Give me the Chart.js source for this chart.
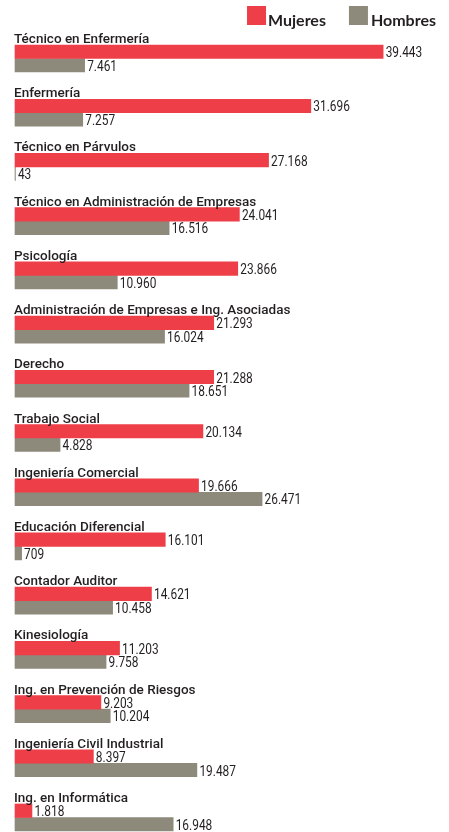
<!DOCTYPE html>
<html>
<head>
<meta charset="utf-8">
<script src="https://cdn.jsdelivr.net/npm/chart.js@4.4.1/dist/chart.umd.min.js"></script>
<style>
  html, body { margin: 0; padding: 0; background: #fff; }
  #wrap { width: 449px; height: 832px; position: relative; }
</style>
</head>
<body>
<div id="wrap"><canvas id="grafico"></canvas></div>
<script>
var carreras = [
  'Técnico en Enfermería',
  'Enfermería',
  'Técnico en Párvulos',
  'Técnico en Administración de Empresas',
  'Psicología',
  'Administración de Empresas e Ing. Asociadas',
  'Derecho',
  'Trabajo Social',
  'Ingeniería Comercial',
  'Educación Diferencial',
  'Contador Auditor',
  'Kinesiología',
  'Ing. en Prevención de Riesgos',
  'Ingeniería Civil Industrial',
  'Ing. en Informática'
]
var mujeres = [39443, 31696, 27168, 24041, 23866, 21293, 21288, 20134, 19666, 16101, 14621, 11203, 9203, 8397, 1818]
var hombres = [7461, 7257, 43, 16516, 10960, 16024, 18651, 4828, 26471, 709, 10458, 9758, 10204, 19487, 16948]

const ROJO = '#ee3f49'
const GRIS = '#8d8a7c'

// miles con punto, tambien para 4 digitos (1.818)
function fmt(n) {
  return String(n).replace(/\B(?=(\d{3})+(?!\d))/g, '.')
}

const rotulos = {
  id: 'rotulos',
  afterDatasetsDraw(chart) {
    const ctx = chart.ctx
    const rojas = chart.getDatasetMeta(0).data
    const grises = chart.getDatasetMeta(1).data
    ctx.save()
    ctx.fillStyle = '#231f20'
    ctx.textAlign = 'left'
    ctx.textBaseline = 'alphabetic'
    ctx.font = '500 13.5px Roboto'
    rojas.forEach((bar, i) => {
      ctx.fillText(carreras[i], chart.chartArea.left - 1, bar.y - bar.height / 2 - 2)
    })
    // numeros angostos: se comprime el texto en x
    ctx.font = '14px Roboto'
    ;[rojas, grises].forEach((bars, d) => {
      const valores = chart.data.datasets[d].data
      bars.forEach((bar, i) => {
        ctx.save()
        ctx.translate(bar.x + 2.5, bar.y + 5.5)
        ctx.scale(0.85, 1)
        ctx.fillText(fmt(valores[i]), 0, 0)
        ctx.restore()
      })
    })
    ctx.restore()
  },
  afterDraw(chart) {
    // leyenda arriba a la derecha
    const ctx = chart.ctx
    ctx.save()
    ctx.font = 'bold 16px Lato'
    ctx.textBaseline = 'alphabetic'
    ctx.textAlign = 'left'
    const derecha = 436
    const wH = ctx.measureText(chart.data.datasets[1].label).width
    const xH = derecha - wH
    const cajaH = xH - 4 - 18
    const wM = ctx.measureText(chart.data.datasets[0].label).width
    const xM = cajaH - 23 - wM
    const cajaM = xM - 3 - 18
    ctx.fillStyle = ROJO
    ctx.fillRect(cajaM, 6, 19, 19)
    ctx.fillStyle = GRIS
    ctx.fillRect(cajaH, 6, 19, 19)
    ctx.fillStyle = '#231f20'
    ctx.fillText(chart.data.datasets[0].label, xM, 26)
    ctx.fillText(chart.data.datasets[1].label, xH, 26)
    ctx.restore()
  }
}

const ctx = document.getElementById('grafico')
var grafico = new Chart(ctx, {
  type: 'bar',
  data: {
    labels: carreras,
    datasets: [
      {
        label: 'Mujeres',
        data: mujeres,
        backgroundColor: ROJO,
        barThickness: 13.5,
        clip: false
      },
      {
        label: 'Hombres',
        data: hombres,
        backgroundColor: GRIS,
        barThickness: 13.5,
        clip: false
      }
    ]
  },
  options: {
    indexAxis: 'y',
    responsive: true,
    maintainAspectRatio: false,
    animation: false,
    layout: {
      padding: { top: 58.5, bottom: 14.5, left: 15, right: 14 }
    },
    scales: {
      x: { display: false, min: 0, max: 45000 },
      y: { display: false, offset: false }
    },
    plugins: {
      legend: { display: false },
      tooltip: { enabled: false }
    }
  },
  plugins: [rotulos]
})
</script>
</body>
</html>
